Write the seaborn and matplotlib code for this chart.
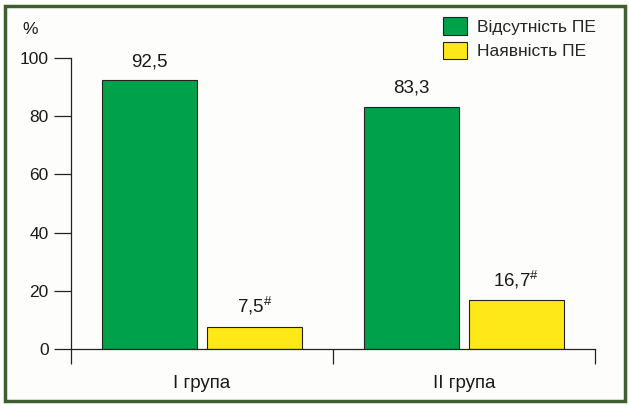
import matplotlib
matplotlib.use("Agg")
import matplotlib.pyplot as plt
import matplotlib.patches as mpatches
import seaborn as sns
import pandas as pd

groups = ["I група", "II група"]
series = ["Відсутність ПЕ", "Наявність ПЕ"]
absent = [92.5, 83.3]
present = [7.5, 16.7]
labels_absent = ["92,5", "83,3"]
labels_present = ["7,5$^{\\#}$", "16,7$^{\\#}$"]
yticks = [0, 20, 40, 60, 80, 100]

sns.set_theme(style="white")
plt.rcParams["font.family"] = ["Liberation Sans", "DejaVu Sans"]
plt.rcParams["mathtext.fontset"] = "custom"
plt.rcParams["mathtext.rm"] = "Liberation Sans"

df = pd.DataFrame({
    "group": groups * 2,
    "series": [series[0]] * 2 + [series[1]] * 2,
    "value": absent + present,
})

colors = ["#00a14b", "#ffe817"]

fig = plt.figure(figsize=(6.3, 4.05), dpi=100, facecolor="#fdfdfb")
ax = fig.add_axes([71/630, 1 - 349/405, (595-71)/630, (349-58)/405])
ax.set_facecolor("#fdfdfb")

sns.barplot(data=df, x="group", y="value", hue="series", palette=colors,
            saturation=1, width=0.8, gap=0.1, edgecolor="#222222", linewidth=0.8,
            ax=ax, legend=False)

ax.set_xlim(-0.5, 1.5)
ax.set_ylim(0, 100)
ax.set_xlabel("")
ax.set_ylabel("")

# value labels
for i, c in enumerate(ax.containers):
    labs = labels_absent if i == 0 else labels_present
    ax.bar_label(c, labels=labs, padding=7, fontsize=13.5, color="#1a1a1a")

# spines
for s in ["top", "right"]:
    ax.spines[s].set_visible(False)
for s in ["left", "bottom"]:
    ax.spines[s].set_color("#222222")
    ax.spines[s].set_linewidth(0.9)

ax.set_yticks(yticks)
ax.set_yticklabels([str(v) for v in yticks], fontsize=12.5, color="#1a1a1a")
ax.tick_params(axis="y", direction="out", length=12, width=0.9, color="#222222", left=True, pad=4)

ax.set_xticks([-0.5, 0.5, 1.5])
ax.set_xticklabels(["", "", ""])
ax.set_xticks([0, 1], minor=True)
ax.set_xticklabels(groups, minor=True, fontsize=13.5, color="#1a1a1a")
ax.tick_params(axis="x", which="major", direction="out", length=11, width=0.9, color="#222222", bottom=True)
ax.tick_params(axis="x", which="minor", length=0, pad=19, bottom=True)

ax.text((22 - 71) / 524, (349 - 29) / 291, "%", transform=ax.transAxes, fontsize=12.5,
        ha="left", va="center", color="#1a1a1a")

handles = [mpatches.Patch(facecolor=colors[k], edgecolor="#222222", linewidth=0.8, label=series[k]) for k in range(2)]
fig.legend(handles=handles, loc="upper left", bbox_to_anchor=(436/630, 1 - 10/405),
           frameon=False, fontsize=12.5, handlelength=1.4, handleheight=1.2,
           handletextpad=0.55, labelspacing=0.4, borderaxespad=0)

# figure border
border = mpatches.Rectangle((5/630, 4/405), 620/630, 395/405, transform=fig.transFigure,
                            fill=False, edgecolor="#3f5f30", linewidth=2.5)
fig.patches.append(border)

fig.savefig("out.png", dpi=100, facecolor=fig.get_facecolor())
